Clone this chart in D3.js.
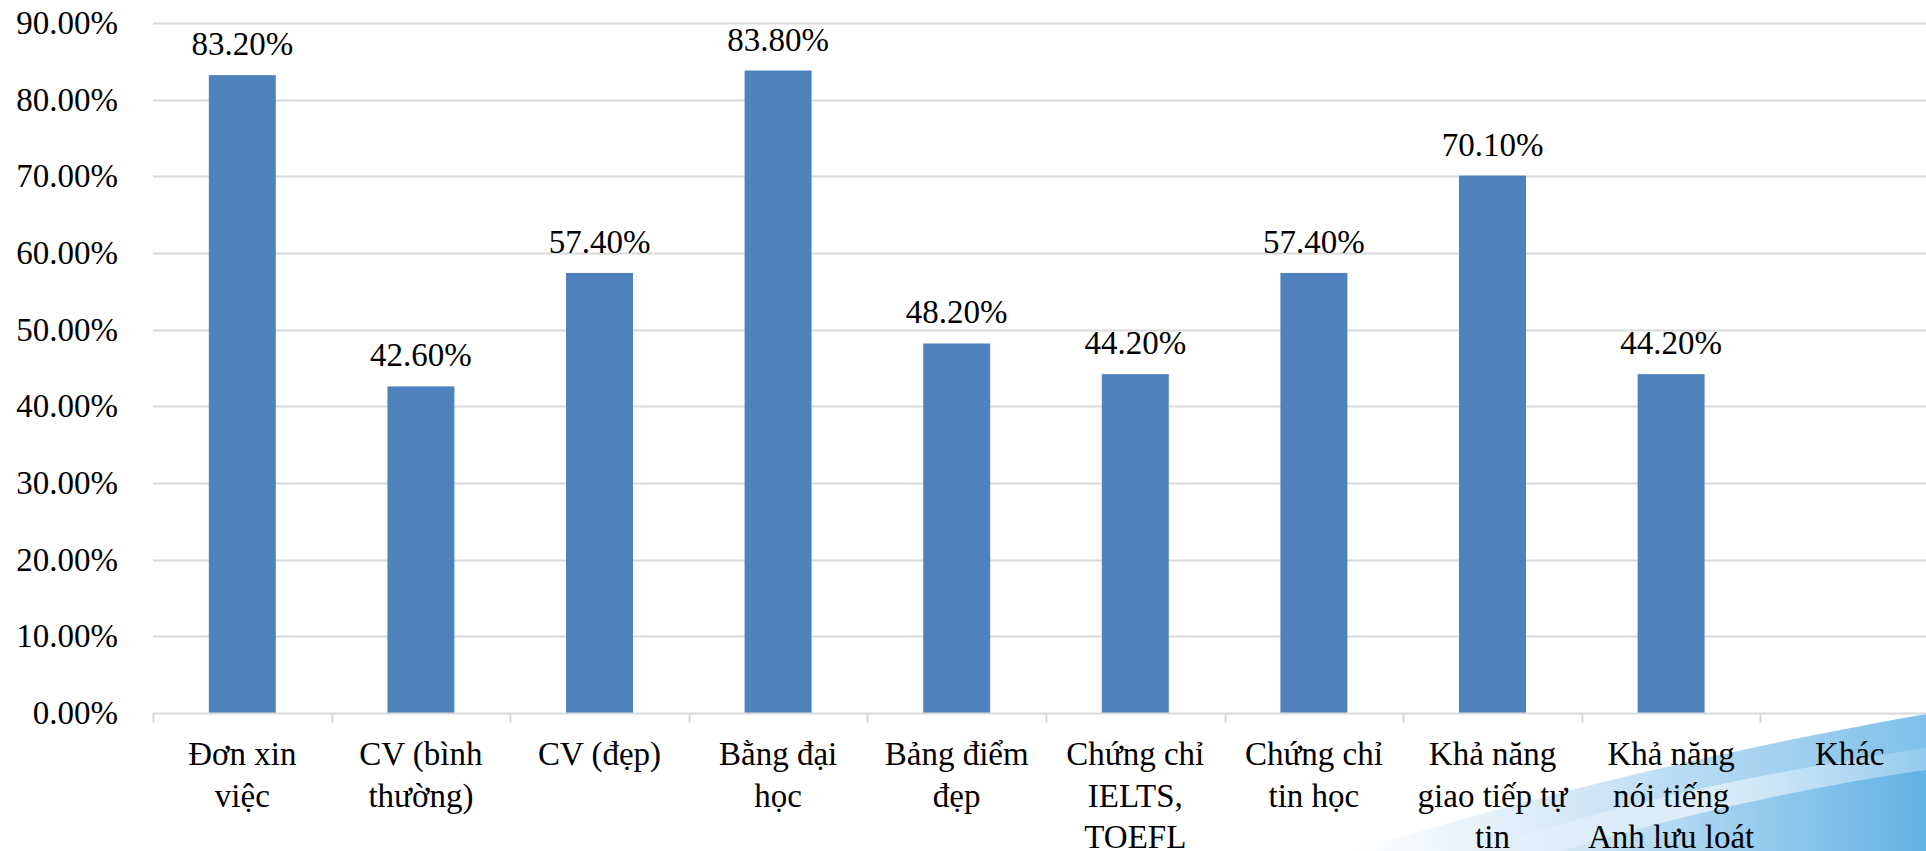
<!DOCTYPE html>
<html>
<head>
<meta charset="utf-8">
<script src="https://cdn.jsdelivr.net/npm/d3@7"></script>
<style>
  html, body { margin: 0; padding: 0; background: #ffffff; overflow: hidden; }
  svg { display: block; }
  svg text, svg tspan { font-family: "Liberation Serif", "Times New Roman", Tinos, serif !important; font-size: 33px !important; }
</style>
</head>
<body>
<svg id="chart" width="1926" height="851"></svg>
<script>
// ---- data ----
const categories = [
  "Đơn xin việc", "CV (bình thường)", "CV (đẹp)", "Bằng đại học", "Bảng điểm đẹp",
  "Chứng chỉ IELTS, TOEFL", "Chứng chỉ tin học", "Khả năng giao tiếp tự tin",
  "Khả năng nói tiếng Anh lưu loát", "Khác"
];
const categoryLines = [
  ["Đơn xin", "việc"],
  ["CV (bình", "thường)"],
  ["CV (đẹp)"],
  ["Bằng đại", "học"],
  ["Bảng điểm", "đẹp"],
  ["Chứng chỉ", "IELTS,", "TOEFL"],
  ["Chứng chỉ", "tin học"],
  ["Khả năng", "giao tiếp tự", "tin"],
  ["Khả năng", "nói tiếng", "Anh lưu loát"],
  ["Khác"]
];
const values = [0.832, 0.426, 0.574, 0.838, 0.482, 0.442, 0.574, 0.701, 0.442, null];
const yTicks = [0, 0.1, 0.2, 0.3, 0.4, 0.5, 0.6, 0.7, 0.8, 0.9];

// ---- layout ----
const W = 1926, H = 851;
const plotLeft = 153, plotRight = 1939, plotTop = 23, plotBottom = 713;
const FONT = '"Liberation Serif", "Times New Roman", Tinos, serif';
const fontSize = "33px";

const svg = d3.select("#chart");

// decorative background swoosh (bottom-right of the slide)
const defs = svg.append("defs");
const g1 = defs.append("linearGradient").attr("id", "sw1").attr("x1", "0").attr("y1", "0").attr("x2", "1").attr("y2", "0");
g1.append("stop").attr("offset", "0").attr("stop-color", "#ffffff");
g1.append("stop").attr("offset", "0.35").attr("stop-color", "#d8eaf8");
g1.append("stop").attr("offset", "1").attr("stop-color", "#7fc0ea");
const g2 = defs.append("linearGradient").attr("id", "sw2").attr("x1", "0").attr("y1", "0").attr("x2", "1").attr("y2", "0");
g2.append("stop").attr("offset", "0").attr("stop-color", "#d6e9f7");
g2.append("stop").attr("offset", "1").attr("stop-color", "#62b2e5");
const g3 = defs.append("linearGradient").attr("id", "sw3").attr("x1", "0").attr("y1", "0").attr("x2", "1").attr("y2", "0");
g3.append("stop").attr("offset", "0").attr("stop-color", "#ffffff").attr("stop-opacity", "0");
g3.append("stop").attr("offset", "0.5").attr("stop-color", "#ffffff").attr("stop-opacity", "0.55");
g3.append("stop").attr("offset", "1").attr("stop-color", "#ffffff").attr("stop-opacity", "0.15");

const deco = svg.append("g").attr("class", "decoration");
deco.append("path")
  .attr("d", "M1355,851 C1550,790 1750,745 1926,714 L1926,851 Z")
  .attr("fill", "url(#sw1)");
deco.append("path")
  .attr("d", "M1560,851 C1700,810 1820,785 1926,770 L1926,851 Z")
  .attr("fill", "url(#sw2)");
deco.append("path")
  .attr("d", "M1480,851 C1620,800 1780,770 1926,748 L1926,770 C1820,785 1700,810 1560,851 Z")
  .attr("fill", "url(#sw3)");

// scales
const x = d3.scaleBand()
  .domain(categories)
  .range([plotLeft, plotRight])
  .paddingInner(0.625)
  .paddingOuter(0.3125);

const y = d3.scaleLinear()
  .domain([0, 0.9])
  .range([plotBottom, plotTop]);

// gridlines
svg.append("g").attr("class", "grid")
  .selectAll("line")
  .data(yTicks.filter(d => d > 0))
  .join("line")
  .attr("x1", plotLeft).attr("x2", W)
  .attr("y1", d => Math.round(y(d)) + 0.5).attr("y2", d => Math.round(y(d)) + 0.5)
  .attr("stroke", "#d9d9d9").attr("stroke-width", 2);

// y axis (labels only)
const yAxis = d3.axisLeft(y)
  .tickValues(yTicks)
  .tickFormat(d3.format(".2%"))
  .tickSize(0)
  .tickPadding(35);
const yg = svg.append("g").attr("transform", `translate(${plotLeft},0)`).call(yAxis);
yg.attr("font-family", FONT).attr("font-size", 33);
yg.select(".domain").remove();
yg.selectAll("text")
  .attr("font-family", FONT)
  .style("font-family", FONT)
  .style("font-size", fontSize)
  .attr("fill", "#000")
  .attr("dy", "0.32em");

// bars
const barData = categories.map((c, i) => ({ c, v: values[i] })).filter(d => d.v != null);
svg.append("g").attr("class", "bars")
  .selectAll("rect")
  .data(barData)
  .join("rect")
  .attr("x", d => x(d.c))
  .attr("width", x.bandwidth())
  .attr("y", d => y(d.v))
  .attr("height", d => y(0) - y(d.v))
  .attr("fill", "#4f81bd");

// data labels
svg.append("g").attr("class", "labels")
  .attr("font-family", FONT)
  .selectAll("text")
  .data(barData)
  .join("text")
  .attr("x", d => x(d.c) + x.bandwidth() / 2)
  .attr("y", d => y(d.v) - 20)
  .attr("text-anchor", "middle")
  .attr("fill", "#000")
  .attr("font-family", FONT)
  .style("font-family", FONT)
  .style("font-size", fontSize)
  .text(d => d3.format(".2%")(d.v));

// x axis: baseline and tick marks at band boundaries
const xg = svg.append("g").attr("class", "x-axis").attr("font-family", FONT);
xg.append("line")
  .attr("x1", plotLeft).attr("x2", plotRight)
  .attr("y1", plotBottom + 0.5).attr("y2", plotBottom + 0.5)
  .attr("stroke", "#d9d9d9").attr("stroke-width", 2);
const boundaries = categories.map((c, i) => plotLeft + i * x.step());
boundaries.push(plotRight);
xg.selectAll("line.tick")
  .data(boundaries)
  .join("line")
  .attr("class", "tick")
  .attr("x1", d => Math.round(d) + 0.5).attr("x2", d => Math.round(d) + 0.5)
  .attr("y1", plotBottom).attr("y2", plotBottom + 10)
  .attr("stroke", "#d9d9d9").attr("stroke-width", 2);

// category labels
const catG = xg.selectAll("text.cat")
  .data(categories)
  .join("text")
  .attr("class", "cat")
  .attr("text-anchor", "middle")
  .attr("fill", "#000")
  .attr("font-family", FONT)
  .style("font-family", FONT)
  .style("font-size", fontSize)
  .attr("x", d => x(d) + x.bandwidth() / 2);
catG.each(function(d, i) {
  const t = d3.select(this);
  categoryLines[i].forEach((line, j) => {
    t.append("tspan")
      .attr("x", x(d) + x.bandwidth() / 2)
      .attr("y", 765 + j * 41.5)
      .style("font-family", FONT)
      .text(line);
  });
});
</script>
</body>
</html>
